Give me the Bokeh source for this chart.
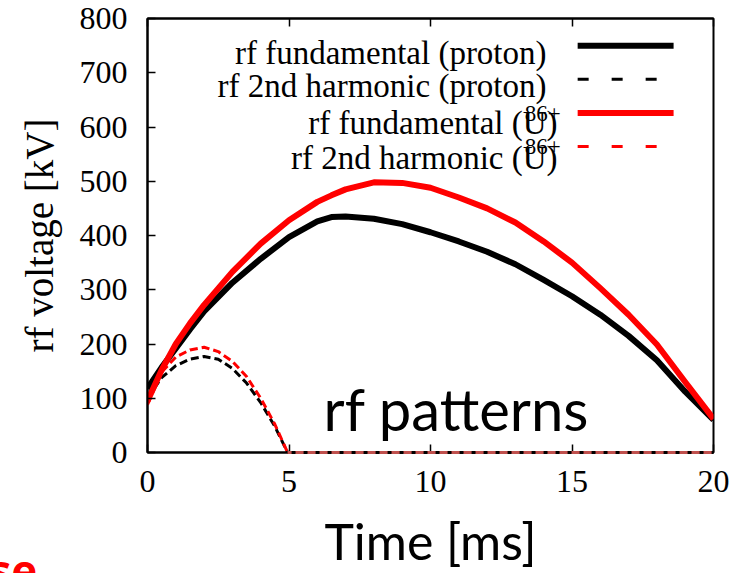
from bokeh.plotting import figure
from bokeh.models import Range1d, FixedTicker, Label, LinearAxis, Title
from bokeh.core.properties import value
from bokeh.embed import file_html
from bokeh.resources import INLINE

# ---- data ----
t_fund = [0, 0.5, 1, 1.5, 2, 3, 4, 5, 6, 6.5, 7, 8, 9, 10, 11, 12, 13, 14, 15, 16, 17, 18, 19, 20]
v_fund_proton = [118, 157, 192, 227, 260, 313, 357, 397, 426, 434, 435, 431, 421, 406, 389, 370, 347, 318, 288, 254, 215, 170, 112, 60]
v_fund_U = [95, 152, 200, 238, 272, 333, 385, 428, 462, 474, 485, 498, 497, 488, 470, 450, 424, 389, 350, 303, 254, 199, 130, 62]

t_harm = [0, 0.5, 1, 1.5, 2, 2.5, 3, 3.5, 4, 4.5, 4.95, 20]
v_harm_proton = [100, 138, 160, 172, 177, 172, 155, 128, 92, 48, 0, 0]
v_harm_U = [88, 148, 176, 189, 194, 186, 168, 140, 100, 52, 0, 0]

x_ticks = [0, 5, 10, 15, 20]
y_ticks = [0, 100, 200, 300, 400, 500, 600, 700, 800]

legend_labels = ["rf fundamental (proton)", "rf 2nd harmonic (proton)",
                 "rf fundamental (U)", "rf 2nd harmonic (U)"]
legend_sup = ["", "", "86+", "86+"]
legend_colors = ["#000000", "#000000", "#ff0000", "#ff0000"]
legend_dash = ["solid", "11 23", "solid", "11 23"]
legend_width = [6, 3, 6, 3]

SERIF = "Liberation Serif"
SANS = "Lato"

p = figure(frame_width=566, frame_height=434,
           x_range=Range1d(0, 20), y_range=Range1d(0, 800),
           output_backend="svg", toolbar_location=None,
           min_border_left=147, min_border_right=31,
           min_border_top=18, min_border_bottom=121)
p.grid.visible = False
p.outline_line_color = "black"
p.outline_line_width = 2
p.background_fill_color = "white"
p.border_fill_color = "white"

# axes
xa = p.xaxis[0]
xa.ticker = FixedTicker(ticks=x_ticks)
xa.major_tick_in = 8
xa.major_tick_out = 0
xa.minor_tick_line_color = None
xa.axis_line_width = 2
xa.major_tick_line_width = 1.5
xa.major_label_text_font = SERIF
xa.major_label_text_font_size = "32px"
xa.major_label_text_color = "black"
xa.major_label_standoff = 18
xa.axis_label = "Time [ms]"
xa.axis_label_text_font = SANS
xa.axis_label_text_font_size = "50px"
xa.axis_label_text_font_style = "normal"
xa.axis_label_text_color = "black"
xa.axis_label_standoff = 16

ya = p.yaxis[0]
ya.ticker = FixedTicker(ticks=y_ticks)
ya.major_tick_in = 8
ya.major_tick_out = 0
ya.minor_tick_line_color = None
ya.axis_line_width = 2
ya.major_tick_line_width = 1.5
ya.major_label_text_font = SERIF
ya.major_label_text_font_size = "32px"
ya.major_label_text_color = "black"
ya.major_label_standoff = 20
ya.axis_label = "rf voltage [kV]"
ya.axis_label_text_font = SERIF
ya.axis_label_text_font_size = "39px"
ya.axis_label_text_font_style = "normal"
ya.axis_label_text_color = "black"
ya.axis_label_standoff = 16

# mirrored ticks on top (no labels)
top = LinearAxis(ticker=FixedTicker(ticks=x_ticks), major_tick_in=8, major_tick_out=0,
                 minor_tick_line_color=None, major_label_standoff=0,
                 major_label_overrides={t: "" for t in x_ticks},
                 axis_line_width=2, major_tick_line_width=1.5)
p.add_layout(top, "above")

# curves
p.line(t_harm, v_harm_proton, line_color="#000000", line_width=3, line_dash="8 4")
p.line(t_harm, v_harm_U, line_color="#ff0000", line_width=3, line_dash="8 4")
p.line(t_fund, v_fund_proton, line_color="#000000", line_width=6, line_join="round")
p.line(t_fund, v_fund_U, line_color="#ff0000", line_width=6, line_join="round")
# zero tails of the harmonics drawn on top of the frame line
p.line(t_harm[-2:], v_harm_proton[-2:], line_color="#000000", line_width=3,
       line_dash="8 4", level="overlay")
p.line(t_harm[-2:], v_harm_U[-2:], line_color="#c0504d", line_width=3,
       line_dash="8 4", line_dash_offset=4, level="overlay")

# legend (gnuplot style: right-justified text, sample on the right)
row_y0, row_dy = 750, -62
line_x0, line_x1 = 15.2, 18.59
text_off = [7, 7, 10, 11]
sup_off = [0, 0, 1, 0]
for i, lab in enumerate(legend_labels):
    yv = row_y0 + i * row_dy
    p.line([line_x0, line_x1], [yv, yv], line_color=legend_colors[i],
           line_width=legend_width[i], line_dash=legend_dash[i])
    xr = 14.1 if not legend_sup[i] else 14.49
    p.text(x=[xr], y=[yv], text=[lab], text_align="right", text_baseline="alphabetic",
           y_offset=text_off[i], text_font=value(SERIF), text_font_size="33px",
           text_color="black")
    if legend_sup[i]:
        p.text(x=[14.6], y=[yv], text=[legend_sup[i]], text_align="right",
               text_baseline="alphabetic", y_offset=sup_off[i], text_font=value(SERIF),
               text_font_size="23px", text_color="black")

p.add_layout(Label(x=6.22, y=81, text="rf patterns", text_font=SANS,
                   text_font_size="58px", text_color="black", text_baseline="alphabetic"))

# cropped red slide text at the bottom-left (outside the frame, so as a title panel)
p.add_layout(Title(text="se", align="left", offset=-158, standoff=-68,
                   text_font="Open Sans", text_font_style="bold", text_font_size="44px",
                   text_color="#ff0000", vertical_align="top"), "below")

open("out.html", "w").write(file_html(p, INLINE))
